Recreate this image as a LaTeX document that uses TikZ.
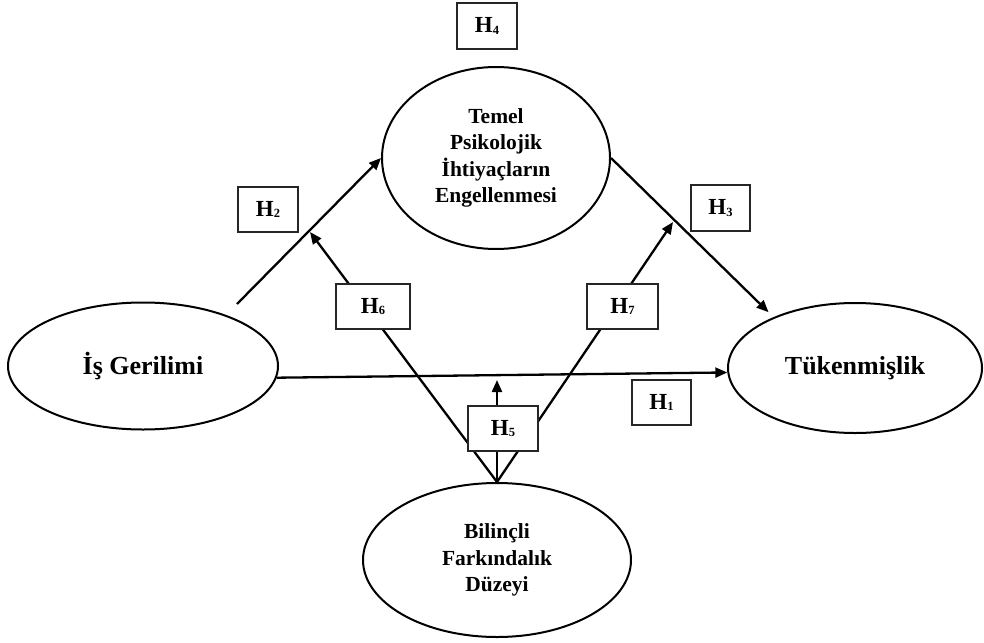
\documentclass[tikz,border=0pt]{standalone}
\usepackage{fontspec}
\setmainfont{Liberation Serif}
\usetikzlibrary{arrows.meta,shapes.geometric}

% hypothesis label: H with a small lowered index
\newcommand\hyplabel[1]{H\raisebox{-1.5pt}{\fontsize{12.5}{12.5}\selectfont #1}}

\tikzset{
  construct/.style={ellipse, draw, line width=2pt, inner sep=0pt,
    align=center, font=\bfseries\fontsize{21.5}{26.5}\selectfont},
  bigconstruct/.style={construct, font=\bfseries\fontsize{26}{30}\selectfont},
  hypbox/.style={rectangle, draw=black!85, fill=white, line width=1.4pt,
    inner sep=0pt, font=\bfseries\fontsize{23}{23}\selectfont},
  effectline/.style={line width=2.3pt, -{Triangle[length=12pt,width=10pt]}}
}

\begin{document}
\begin{tikzpicture}[x=1pt,y=-1pt]
\useasboundingbox (0,0) rectangle (984,642);

% constructs
\node[bigconstruct, minimum width=270pt, minimum height=127pt] (ig) at (143,366) {İş Gerilimi};
\node[bigconstruct, minimum width=254pt, minimum height=130pt] (tk) at (855,368) {Tükenmişlik};
\node[construct, minimum width=228pt, minimum height=182pt] (tp) at (496,158)
  {Temel\\Psikolojik\\İhtiyaçların\\Engellenmesi};
\node[construct, minimum width=268pt, minimum height=154pt] (bt) at (497,560)
  {Bilinçli\\Farkındalık\\Düzeyi};

% free ends of the paths
\coordinate (s2) at (237,304);
\coordinate (m6) at (310,232);
\coordinate (m7) at (673,222);
\coordinate (m5) at (497,380);

% direct paths
\draw[effectline] (ig.-5.5) -- (tk.182);
\draw[effectline] (s2) -- (tp.west);
\draw[effectline, shorten >=7pt] (tp.east) -- (tk.148);

% moderation paths from the bottom construct
\draw[effectline] (bt.north) -- (m6);
\draw[effectline] (bt.north) -- (m7);
\draw[effectline] (bt.north) -- (m5);

% hypothesis labels
\node[hypbox, minimum width=60pt, minimum height=46pt] (h4) at (487,26) {\hyplabel{4}};
\node[hypbox, minimum width=60pt, minimum height=45pt] (h2) at (268,209.5) {\hyplabel{2}};
\node[hypbox, minimum width=74pt, minimum height=45pt] (h6) at (373,306.5) {\hyplabel{6}};
\node[hypbox, minimum width=71pt, minimum height=45pt] (h7) at (622.5,306.5) {\hyplabel{7}};
\node[hypbox, minimum width=59pt, minimum height=46pt] (h3) at (720.5,208) {\hyplabel{3}};
\node[hypbox, minimum width=59pt, minimum height=45pt] (h1) at (661.5,402.5) {\hyplabel{1}};
\node[hypbox, minimum width=70pt, minimum height=45pt] (h5) at (503,428.5) {\hyplabel{5}};
\end{tikzpicture}
\end{document}
